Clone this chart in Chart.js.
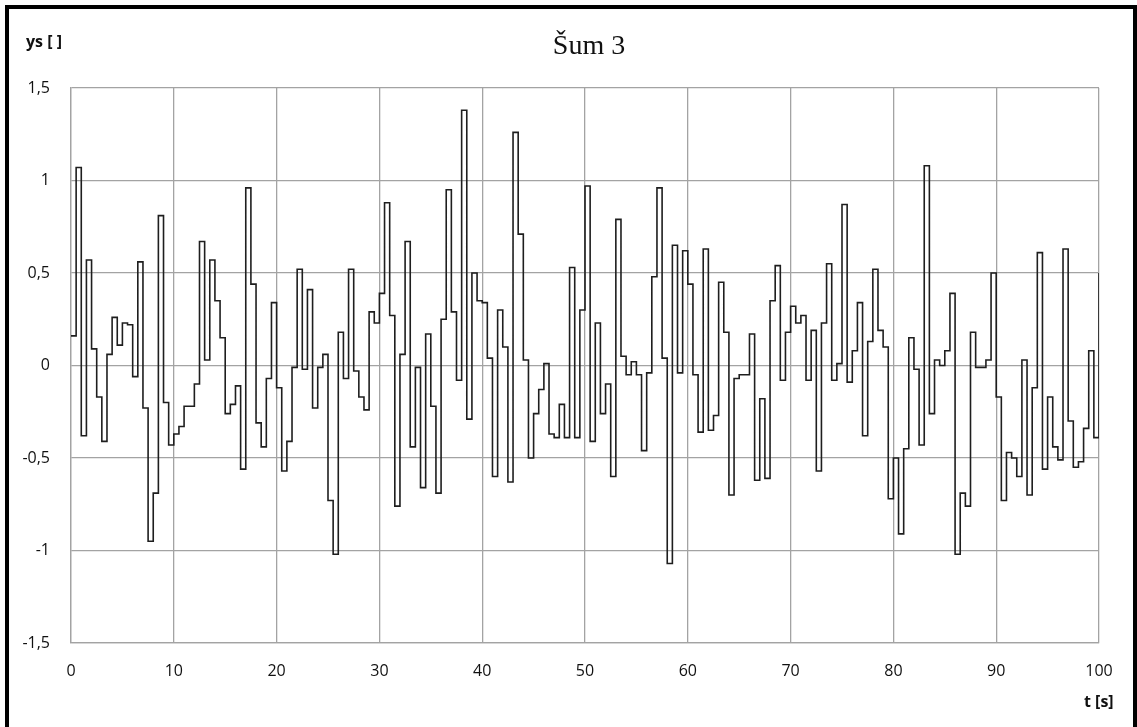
<!DOCTYPE html>
<html>
<head>
<meta charset="utf-8">
<title>Šum 3</title>
<script src="https://cdn.jsdelivr.net/npm/chart.js@4.4.0/dist/chart.umd.min.js"></script>
<style>
    html, body { margin: 0; padding: 0; background: #fff; overflow: hidden; }
    #wrap { position: relative; width: 1137px; height: 727px; }
    #frame {
        position: absolute; left: 5px; top: 5px;
        width: 1132px; height: 740px;
        box-sizing: border-box; border: 4px solid #000;
        pointer-events: none;
    }
</style>
</head>
<body>
<div id="wrap">
    <canvas id="noiseChart" width="1137" height="727"></canvas>
    <div id="frame"></div>
</div>
<script>
// Noise signal, one value held for every 0.5 s sample
const sampleTime = 0.5;
const noiseValues = [
    0.16, 1.07, -0.38, 0.57, 0.09, -0.17, -0.41, 0.06, 0.26, 0.11,
    0.23, 0.22, -0.06, 0.56, -0.23, -0.95, -0.69, 0.81, -0.20, -0.43,
    -0.37, -0.33, -0.22, -0.22, -0.10, 0.67, 0.03, 0.57, 0.35, 0.15,
    -0.26, -0.21, -0.11, -0.56, 0.96, 0.44, -0.31, -0.44, -0.07, 0.34,
    -0.12, -0.57, -0.41, -0.01, 0.52, -0.02, 0.41, -0.23, -0.01, 0.06,
    -0.73, -1.02, 0.18, -0.07, 0.52, -0.03, -0.17, -0.24, 0.29, 0.23,
    0.39, 0.88, 0.27, -0.76, 0.06, 0.67, -0.44, -0.01, -0.66, 0.17,
    -0.22, -0.69, 0.25, 0.95, 0.29, -0.08, 1.38, -0.29, 0.50, 0.35,
    0.34, 0.04, -0.60, 0.30, 0.10, -0.63, 1.26, 0.71, 0.03, -0.50,
    -0.26, -0.13, 0.01, -0.37, -0.39, -0.21, -0.39, 0.53, -0.39, 0.30,
    0.97, -0.41, 0.23, -0.26, -0.10, -0.60, 0.79, 0.05, -0.05, 0.02,
    -0.05, -0.46, -0.04, 0.48, 0.96, 0.04, -1.07, 0.65, -0.04, 0.62,
    0.44, -0.05, -0.36, 0.63, -0.35, -0.27, 0.45, 0.18, -0.70, -0.07,
    -0.05, -0.05, 0.17, -0.62, -0.18, -0.61, 0.35, 0.54, -0.08, 0.18,
    0.32, 0.23, 0.27, -0.08, 0.19, -0.57, 0.23, 0.55, -0.08, 0.01,
    0.87, -0.09, 0.08, 0.34, -0.38, 0.13, 0.52, 0.19, 0.10, -0.72,
    -0.50, -0.91, -0.45, 0.15, -0.02, -0.43, 1.08, -0.26, 0.03, 0.00,
    0.08, 0.39, -1.02, -0.69, -0.76, 0.18, -0.01, -0.01, 0.03, 0.50,
    -0.17, -0.73, -0.47, -0.50, -0.60, 0.03, -0.70, -0.12, 0.61, -0.56,
    -0.17, -0.44, -0.51, 0.63, -0.30, -0.55, -0.52, -0.34, 0.08, -0.39,
    0.50
];
const xTicks = [0, 10, 20, 30, 40, 50, 60, 70, 80, 90, 100];
const yTicks = [-1.5, -1, -0.5, 0, 0.5, 1, 1.5];

const gridColor = '#a3a3a3';
const tickFont = { family: '"Open Sans", "DejaVu Sans", sans-serif', size: 16 };

const points = noiseValues.map((v, i) => ({ x: i * sampleTime, y: v }));

// Title and axis captions
const captionsPlugin = {
    id: 'captions',
    afterDraw(chart) {
        const ctx = chart.ctx;
        ctx.save();
        ctx.fillStyle = '#111';
        ctx.textBaseline = 'middle';
        ctx.textAlign = 'center';
        ctx.font = '28px "Liberation Serif", serif';
        ctx.fillText('Šum 3', 589, 47);
        ctx.textAlign = 'left';
        ctx.font = 'bold 16px "Open Sans", sans-serif';
        ctx.fillText('ys [ ]', 26, 42);
        ctx.fillText('t [s]', 1084, 702);
        ctx.restore();
    }
};

new Chart(document.getElementById('noiseChart'), {
    type: 'line',
    data: {
        datasets: [{
            data: points,
            stepped: true,
            borderColor: '#1e1e1e',
            borderWidth: 1.6,
            pointRadius: 0,
            fill: false
        }]
    },
    options: {
        responsive: false,
        animation: false,
        layout: { padding: { top: 88, right: 38, left: 0, bottom: 0 } },
        plugins: {
            legend: { display: false },
            tooltip: { enabled: false },
            title: { display: false }
        },
        scales: {
            x: {
                type: 'linear',
                min: xTicks[0],
                max: xTicks[xTicks.length - 1],
                afterBuildTicks: s => { s.ticks = xTicks.map(v => ({ value: v })); },
                afterFit: s => { s.height = 84; },
                ticks: { padding: 19, color: '#111', font: tickFont, maxRotation: 0 },
                grid: { color: gridColor, lineWidth: 1.3, drawTicks: false },
                border: { color: gridColor, width: 1.3 }
            },
            y: {
                min: yTicks[0],
                max: yTicks[yTicks.length - 1],
                afterBuildTicks: s => { s.ticks = yTicks.map(v => ({ value: v })); },
                afterFit: s => { s.width = 71; },
                ticks: {
                    padding: 21,
                    color: '#111',
                    font: tickFont,
                    callback: v => String(v).replace('.', ',')
                },
                grid: { color: gridColor, lineWidth: 1.3, drawTicks: false },
                border: { color: gridColor, width: 1.3 }
            }
        }
    },
    plugins: [captionsPlugin]
});
</script>
</body>
</html>
